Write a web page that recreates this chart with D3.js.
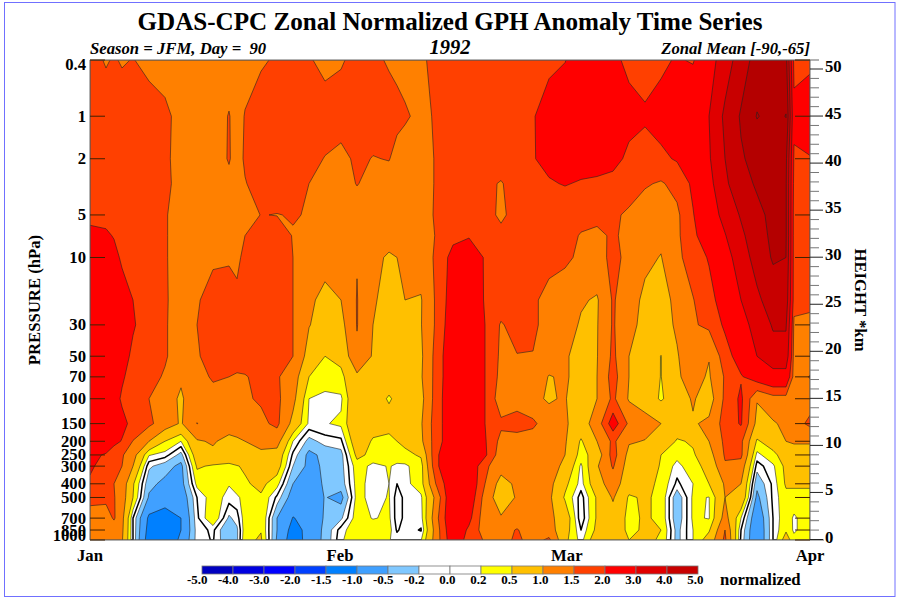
<!DOCTYPE html>
<html><head><meta charset="utf-8">
<script src="https://cdn.jsdelivr.net/npm/d3@7/dist/d3.min.js"></script>
<style>html,body{margin:0;padding:0;background:#fff}svg{display:block}text{font-family:"Liberation Serif",serif;font-weight:bold;fill:#000}</style>
</head><body><svg id="c" width="900" height="600"></svg>
<script>
const days=[0,2,3,4,5.375,7.375,9.375,11.375,13.375,15.375,17.375,18.375,19.375,21.375,23.375,25.375,27.375,29.375,31.375,33.375,35.375,37.375,38.375,39.375,41.375,43.375,45.375,47.375,49.375,51.375,53.375,55.375,57.375,59.375,61.375,63.375,65.375,67.375,69.375,71.375,73.375,75.375,77.375,79.375,81.375,83.375,85.375,87,88,90];
const pressures=[0.4,1,2,3,5,7,10,20,30,50,70,100,150,200,250,300,400,500,700,850,1000];
const p0_4=[1.7,1.45,1.55,1.45,1.52,1.35,1.3,1.3,1.3,1.3,1.3,1.3,1.35,1.45,1.55,1.7,1.55,1.35,1.45,1.65,1.6,1.45,1.4,1.35,1.42,1.65,1.75,1.8,1.8,1.85,1.85,1.85,1.9,1.98,2.3,2.4,2.1,1.9,1.85,1.9,2.05,1.95,2.6,3.5,4.5,5.4,5.5,5.3,1.8,1.8];
const p1=[1.8,1.8,1.8,1.8,1.8,1.75,1.6,1.35,1.3,1.3,1.52,1.35,1.52,1.7,1.8,1.85,1.85,1.75,1.75,1.8,1.75,1.7,1.62,1.55,1.4,1.55,1.7,1.75,1.8,1.85,1.9,1.97,2.2,2.4,2.4,2.4,2.3,2.15,2.05,2.2,2.4,2.6,3.0,4.2,5.1,6.05,5.7,6.03,2.2,2.6];
const p2=[1.85,1.85,1.85,1.85,1.85,1.75,1.6,1.3,1.25,1.3,1.53,1.35,1.55,1.7,1.75,1.75,1.65,1.48,1.35,1.6,1.48,1.52,1.35,1.3,1.3,1.55,1.7,1.75,1.8,1.85,1.9,1.97,2.15,2.3,2.25,2.25,2.15,1.9,1.85,1.9,2.05,2.4,2.9,4.0,4.9,5.3,5.4,5.2,1.9,1.95];
const p3=[1.85,1.85,1.85,1.85,1.85,1.75,1.6,1.35,1.3,1.35,1.4,1.4,1.48,1.65,1.7,1.6,1.5,1.3,1.3,1.52,1.35,1.3,1.28,1.25,1.3,1.55,1.75,1.8,1.65,1.45,1.8,1.85,1.95,2.03,1.95,1.9,1.85,1.65,1.55,1.45,1.65,2.1,2.7,3.8,4.7,5.1,5.3,5.1,1.8,1.8];
const p5=[1.9,1.9,1.85,1.85,1.85,1.7,1.55,1.25,1.2,1.25,1.3,1.3,1.35,1.51,1.49,1.52,1.48,1.3,1.25,1.25,1.2,1.15,1.12,1.1,1.2,1.6,1.8,1.85,1.7,1.4,1.7,1.75,1.7,1.65,1.6,1.6,1.55,1.45,1.25,1.2,1.4,1.97,2.5,3.3,4.1,4.8,5.2,5.1,1.7,1.7];
const p7=[2.1,2.05,1.98,1.9,1.85,1.7,1.55,1.25,1.2,1.25,1.3,1.35,1.5,1.7,1.7,1.48,1.4,1.25,1.2,1.2,1.2,1.15,1.12,1.1,1.2,1.55,1.85,1.95,1.85,1.65,1.65,1.7,1.7,1.6,1.48,1.42,1.55,1.4,1.15,1.1,1.4,1.9,2.3,2.95,3.8,4.6,5.2,5.1,1.7,1.7];
const p10=[2.3,2.2,2.1,1.95,1.85,1.7,1.55,1.25,1.2,1.42,1.45,1.4,1.62,1.7,1.65,1.5,1.35,1.2,1.15,1.48,1.1,0.95,1.0,1.1,1.2,1.6,2.2,2.4,1.95,1.8,1.7,1.7,1.7,1.6,1.4,1.35,1.6,1.4,1.1,0.98,1.4,1.7,2.05,2.6,3.5,4.4,5.1,5.0,1.7,1.7];
const p20=[2.4,2.3,2.25,2.15,2.0,1.75,1.55,1.3,1.45,1.7,1.7,1.6,1.7,1.7,1.65,1.5,1.1,0.85,1.0,1.52,1.05,0.85,0.92,1.0,0.97,1.6,2.3,2.5,1.95,1.8,1.7,1.6,1.3,1.2,1.05,0.95,1.55,1.2,0.9,0.85,1.1,1.48,1.8,2.3,3.0,3.8,4.5,4.6,1.7,1.6];
const p30=[2.5,2.45,2.4,2.3,2.05,1.75,1.55,1.25,1.5,1.65,1.7,1.72,1.75,1.8,1.7,1.5,1.02,0.8,0.85,1.52,1.0,0.8,0.85,0.95,0.98,1.6,2.4,2.6,2.0,1.45,1.7,1.6,1.3,1.2,0.95,0.97,1.55,1.1,0.9,0.85,1.05,1.45,1.6,2.1,2.7,3.3,4.1,4.1,1.4,1.4];
const p50=[2.7,2.5,2.4,2.2,1.9,1.7,1.55,1.25,1.45,1.7,1.8,1.82,1.85,1.8,1.7,1.5,0.8,0.5,0.62,1.42,0.95,0.75,0.77,0.8,0.92,1.7,2.5,2.7,2.0,1.4,1.48,1.48,1.2,1.05,0.85,0.98,1.6,1.0,0.8,0.49,0.97,1.25,1.02,1.75,2.3,3.0,3.6,3.6,1.3,1.3];
const p70=[2.7,2.4,2.3,2.05,1.85,1.65,1.45,1.05,1.35,1.55,1.5,1.42,1.45,1.7,1.55,1.25,0.5,0.4,0.4,0.9,0.9,0.75,0.77,0.8,0.95,1.7,2.5,2.7,2.0,1.35,1.3,1.25,0.98,1.05,0.85,1.0,1.7,1.0,0.75,0.49,0.95,1.15,0.95,1.55,1.95,2.3,2.6,2.6,1.3,1.52];
const p100=[2.5,2.3,2.15,1.95,1.7,1.5,1.15,0.95,1.25,1.35,1.35,1.4,1.45,1.55,1.6,1.15,0.2,0.1,0.15,0.95,0.75,0.45,0.6,0.7,0.85,1.75,2.5,2.7,2.0,1.2,1.25,1.1,0.95,1.05,0.5,1.0,1.6,0.95,0.75,0.45,0.75,1.05,0.75,1.6,2.1,1.03,1.3,1.3,1.2,1.3];
const p150=[2.2,2.1,2.0,2.1,1.9,1.6,1.25,0.95,1.51,1.3,1.25,1.27,1.3,1.4,1.6,0.85,0.15,0.18,0.25,0.95,0.7,0.7,0.85,0.98,0.95,1.8,2.4,2.5,2.0,1.6,1.75,1.6,1.2,1.05,0.8,1.2,2.3,1.4,1.2,1.0,0.8,0.95,1.1,1.7,2.05,0.85,0.95,1.1,1.3,1.6];
const p200=[2.25,2.15,2.1,1.98,1.48,1.0,0.5,0.2,0.95,1.05,0.85,0.92,1.0,1.15,1.2,0.2,-0.3,-0.1,-0.05,0.8,0.45,0.35,0.5,0.6,0.9,1.8,2.4,2.5,2.05,1.35,1.25,1.25,1.15,1.05,0.45,1.0,1.6,1.05,0.98,0.95,0.45,0.55,1.0,1.6,1.6,0.45,0.7,1.0,1.05,1.05];
const p250=[2.05,1.98,1.8,1.55,1.2,0.22,0.1,-0.3,0.75,0.9,0.8,0.82,0.85,0.9,0.8,-0.05,-0.6,-0.4,-0.3,0.6,0.4,0.3,0.35,0.4,0.55,1.95,2.4,2.5,2.1,1.2,1.25,1.25,1.2,1.0,0.35,0.7,1.7,0.85,0.7,0.5,0.3,0.45,0.8,1.55,1.6,0.12,0.4,0.7,0.8,0.8];
const p300=[2.1,1.75,1.6,1.5,1.0,-0.15,-0.35,-0.6,0.55,0.45,0.4,0.48,0.55,0.7,0.7,-0.2,-0.6,-0.45,-0.3,0.35,0.12,0.22,0.15,0.15,0.35,1.95,2.4,2.5,1.6,1.2,1.25,1.25,1.2,0.9,0.15,0.95,1.55,0.75,0.65,0.48,0.1,0.4,0.6,1.45,1.3,-0.1,0.15,0.6,0.7,0.7];
const p400=[1.9,1.65,1.5,1.3,0.55,-0.4,-0.6,-0.65,0.28,0.25,0.22,0.38,0.45,0.6,0.3,-0.5,-0.7,-0.45,-0.35,0.3,0.1,0.2,0.0,0.12,0.35,1.6,2.5,2.5,1.5,0.8,1.1,1.25,1.15,0.6,0.1,0.8,1.25,0.7,0.65,0.4,-0.05,0.2,0.5,1.05,1.0,-0.4,0.05,0.55,0.55,0.55];
const p500=[1.7,1.6,1.53,1.25,0.5,-0.55,-0.8,-0.8,0.0,0.35,0.1,0.15,0.3,0.45,-0.05,-0.7,-0.8,-0.48,-0.62,0.3,0.1,0.22,-0.1,0.05,0.15,1.2,2.6,2.4,1.3,0.7,1.05,1.2,1.1,0.45,-0.1,0.55,1.05,0.45,0.55,0.42,-0.4,0.25,0.19,1.0,0.9,-0.6,0.05,0.4,0.4,0.4];
const p700=[1.2,1.3,1.55,1.15,0.0,-1.1,-1.2,-1.0,-0.05,0.45,-0.25,-0.1,0.35,0.5,-0.5,-1.02,-0.85,-0.45,-0.25,0.35,0.18,0.25,-0.1,0.05,0.1,1.4,2.6,2.15,1.2,1.05,1.1,1.15,1.1,0.8,-0.15,0.55,0.8,0.4,0.55,0.42,-0.4,0.25,0.18,1.2,0.2,-0.85,0.0,0.4,0.15,0.4];
const p850=[1.2,1.25,1.25,1.1,0.0,-1.2,-1.3,-1.0,-0.1,0.05,-0.5,-0.25,0.35,0.48,-0.5,-1.2,-0.85,-0.4,0.1,0.4,0.4,0.3,-0.03,0.1,-0.02,1.3,2.5,1.9,1.25,1.2,1.55,1.1,1.2,0.7,0.0,0.6,0.75,0.42,0.55,0.5,-0.3,0.2,0.45,1.5,0.0,-0.9,0.0,0.45,0.15,0.4];
const p1000=[1.1,1.2,1.2,1.05,0.0,-1.3,-1.4,-0.9,-0.1,0.02,-0.45,-0.25,0.4,0.55,-0.55,-1.3,-0.8,-0.4,0.15,0.45,0.45,0.22,0.1,0.15,0.18,1.3,2.4,1.8,1.45,1.3,1.6,1.3,1.6,0.6,0.1,0.8,0.7,0.5,0.6,0.45,-0.3,0.2,0.7,1.6,-0.05,-0.9,0.0,0.7,0.3,0.4];
const rows=[p0_4,p1,p2,p3,p5,p7,p10,p20,p30,p50,p70,p100,p150,p200,p250,p300,p400,p500,p700,p850,p1000];
const legendLevels=[-5,-4,-3,-2,-1.5,-1,-0.5,-0.2,0,0.2,0.5,1,1.5,2,3,4,5];
const legendColors=["#0000C0","#0000E0","#0000FF","#0040FF","#0080FF","#40A0FF","#80C8FF","#FFFFFF","#FFFFFF","#FFFF00","#FFC000","#FF8000","#FF4000","#FF0000","#E00000","#C80000"];
const topColor="#B40000";
const extraLevel=6;
const pressureTicks=[0.4,1,2,5,10,30,50,70,100,150,200,250,300,400,500,700,850,1000];
const heightMajor=[0,5,10,15,20,25,30,35,40,45,50];
const months=[["Jan",0],["Feb",31.25],["Mar",59.6],["Apr",90]];

const svg=d3.select("#c");
const L=90,R=810,T=60,B=540;
const x=d3.scaleLinear().domain([0,90]).range([L,R]);
const y=d3.scaleLog().domain([0.4,1000]).range([T,B]);
const km=d3.scaleLinear().domain([0,50]).range([539.5,69]);
const n=days.length,m=rows.length;
const values=rows.flat();
if(rows.some(r=>r.length!==n))throw new Error("row length "+rows.map(r=>r.length));
const ix=d3.scaleLinear().domain(d3.range(n)).range(days).clamp(true);
const iy=d3.scaleLinear().domain(d3.range(m)).range(pressures.map(Math.log10)).clamp(true);
const path=d3.geoPath(d3.geoTransform({point(a,b){this.stream.point(x(ix(a-0.5)),y(Math.pow(10,iy(b-0.5))));}}));

svg.append("rect").attr("x",4.5).attr("y",2.5).attr("width",890.5).attr("height",594).attr("fill","#fff").attr("stroke","#7070ff").attr("stroke-width",1);
svg.append("clipPath").attr("id","pl").append("rect").attr("x",L).attr("y",T).attr("width",R-L).attr("height",B-T);
const g=svg.append("g").attr("clip-path","url(#pl)");
const levels=[-1.5,-1,-0.5,-0.2,0,0.2,0.5,1,1.5,2,3,4,5,extraLevel];
const colorFor=t=>{const k=legendLevels.indexOf(t);return t>=5?topColor:legendColors[k];};
g.append("rect").attr("x",L).attr("y",T).attr("width",R-L).attr("height",B-T).attr("fill",legendColors[3]);
const cs=d3.contours().size([n,m]).thresholds(levels)(values);
g.selectAll("path.f").data(cs).join("path").attr("class","f").attr("d",path).attr("fill",d=>colorFor(d.value)).attr("stroke",d=>d.value===0?"#000":"#222").attr("stroke-opacity",d=>d.value===0?1:0.85).attr("stroke-width",d=>d.value===0?1.5:0.7).attr("stroke-linejoin","round");

const frame=svg.append("g").attr("stroke","#666").attr("fill","none");
frame.append("path").attr("d",`M${L},${T}H${R+9}M${L},${B}H${R+14}M${L},${T}V${B}M${R},${T}V${B}`).attr("stroke-width",1);
pressureTicks.forEach(p=>{
  svg.append("line").attr("x1",L).attr("x2",L+15).attr("y1",y(p)).attr("y2",y(p)).attr("stroke","#402000");
  svg.append("line").attr("x1",R-15).attr("x2",R).attr("y1",y(p)).attr("y2",y(p)).attr("stroke","#402000");
  svg.append("text").attr("x",86).attr("y",Math.max(64,Math.min(535,y(p)))+5.5).attr("text-anchor","end").attr("font-size",16.7).text(p);
});
d3.range(0,51).forEach(k=>{
  const major=heightMajor.includes(k);
  svg.append("line").attr("x1",R).attr("x2",R+(major?13:9)).attr("y1",km(k)).attr("y2",km(k)).attr("stroke",major?"#222":"#777");
});
heightMajor.forEach(k=>svg.append("text").attr("x",825).attr("y",km(k)+3).attr("font-size",16.7).text(k));
months.forEach(([t,d])=>svg.append("text").attr("x",x(d)).attr("y",561).attr("text-anchor","middle").attr("font-size",16.7).text(t));

svg.append("text").attr("x",450).attr("y",30).attr("text-anchor","middle").attr("font-size",25.1).text("GDAS-CPC Zonal Normalized GPH Anomaly Time Series");
svg.append("text").attr("x",90).attr("y",54).attr("font-size",16.7).attr("font-style","italic").attr("xml:space","preserve").text("Season = JFM, Day =  90");
svg.append("text").attr("x",450).attr("y",54).attr("text-anchor","middle").attr("font-size",20.5).attr("font-style","italic").text("1992");
svg.append("text").attr("x",810).attr("y",54).attr("text-anchor","end").attr("font-size",16.7).attr("font-style","italic").text("Zonal Mean [-90,-65]");
svg.append("text").attr("transform","translate(40,300) rotate(-90)").attr("text-anchor","middle").attr("font-size",16.7).text("PRESSURE (hPa)");
svg.append("text").attr("transform","translate(855,300) rotate(90)").attr("text-anchor","middle").attr("font-size",16.7).text("HEIGHT *km");

const lx=d3.scaleLinear().domain([0,16]).range([202,698]);
legendColors.forEach((c,i)=>svg.append("rect").attr("x",lx(i)).attr("y",566).attr("width",lx(1)-lx(0)).attr("height",8).attr("fill",c).attr("stroke","#777").attr("stroke-width",0.8));
legendLevels.forEach((v,i)=>svg.append("text").attr("x",lx(i)+5.5).attr("y",584).attr("text-anchor","end").attr("font-size",13).text(v.toFixed(1)));
svg.append("text").attr("x",720).attr("y",585).attr("font-size",16.7).text("normalized");
</script></body></html>
